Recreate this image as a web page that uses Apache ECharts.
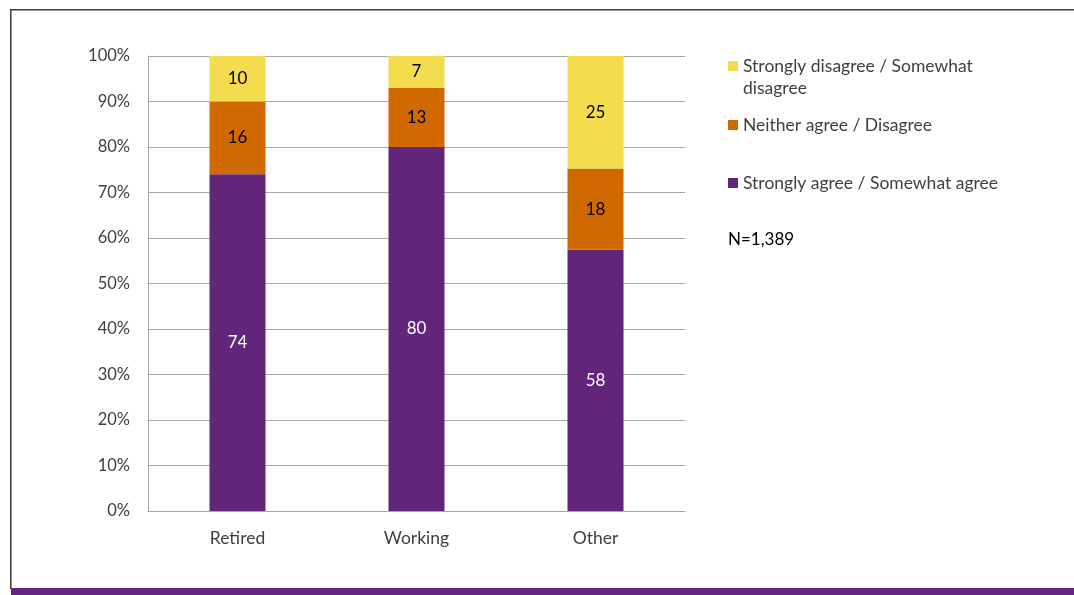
<!DOCTYPE html>
<html>
<head>
<meta charset="utf-8">
<script src="https://cdn.jsdelivr.net/npm/echarts@6/dist/echarts.min.js"></script>
<style>
  html, body { margin: 0; padding: 0; background: #fff; }
  #chart { width: 1074px; height: 595px; }
</style>
</head>
<body>
<div id="chart"></div>
<script>
// Survey groups and response shares (percent, as reported)
const categories = ['Retired', 'Working', 'Other'];
const agree    = [74, 80, 58];
const neither  = [16, 13, 18];
const disagree = [10, 7, 25];
const yTicks = ['0%', '10%', '20%', '30%', '40%', '50%', '60%', '70%', '80%', '90%', '100%'];
const seriesNames = [
  'Strongly agree / Somewhat agree',
  'Neither agree / Disagree',
  'Strongly disagree / Somewhat disagree'
];
const sampleNote = 'N=1,389';

const COLORS = { agree: '#61257a', neither: '#d06a00', disagree: '#f3dd4e' };
const FONT = 'Lato, "Open Sans", sans-serif';

// Each column is a 100% stack: scale the reported shares to their column total
const totals = categories.map((_, i) => agree[i] + neither[i] + disagree[i]);
const toShare = arr => arr.map((v, i) => v / totals[i] * 100);

function series(name, raw, color, labelColor) {
  return {
    name: name,
    type: 'bar',
    stack: 'total',
    barWidth: 56,
    data: toShare(raw),
    itemStyle: { color: color },
    label: {
      show: true,
      position: 'inside',
      color: labelColor,
      fontFamily: FONT,
      fontSize: 17,
      formatter: p => String(raw[p.dataIndex])
    },
    emphasis: { disabled: true }
  };
}

const chart = echarts.init(document.getElementById('chart'), null, { renderer: 'canvas' });

const legendBase = {
  orient: 'vertical',
  left: 728,
  padding: 0,
  itemWidth: 10,
  itemHeight: 10,
  itemGap: 0,
  icon: 'rect',
  selectedMode: false,
  textStyle: { fontFamily: FONT, fontSize: 17.5, color: '#404040', lineHeight: 22 }
};

chart.setOption({
  animation: false,
  backgroundColor: '#ffffff',
  grid: { left: 148, right: 389, top: 56, bottom: 84 },
  xAxis: {
    type: 'category',
    data: categories,
    axisTick: { show: false },
    axisLine: { lineStyle: { color: '#a6a6a6', width: 1 } },
    axisLabel: { margin: 18, color: '#404040', fontFamily: FONT, fontSize: 17.5 }
  },
  yAxis: {
    type: 'value',
    min: 0,
    max: 100,
    interval: 10,
    axisLine: { show: true, lineStyle: { color: '#a6a6a6', width: 1 } },
    axisTick: { show: false },
    splitLine: { lineStyle: { color: '#a6a6a6', width: 1 } },
    axisLabel: {
      margin: 18,
      color: '#404040',
      fontFamily: FONT,
      fontSize: 16.5,
      formatter: v => yTicks[Math.round(v / 10)]
    }
  },
  legend: [
    // leading blank line keeps the icon level with the first text line
    Object.assign({}, legendBase, {
      top: 33,
      data: [seriesNames[2]],
      formatter: () => '\nStrongly disagree / Somewhat\ndisagree'
    }),
    Object.assign({}, legendBase, { top: 114, data: [seriesNames[1]] }),
    Object.assign({}, legendBase, { top: 172, data: [seriesNames[0]] })
  ],
  series: [
    series(seriesNames[0], agree, COLORS.agree, '#ffffff'),
    series(seriesNames[1], neither, COLORS.neither, '#000000'),
    series(seriesNames[2], disagree, COLORS.disagree, '#000000')
  ],
  graphic: [
    // sample size note
    {
      type: 'text', left: 728, top: 231,
      style: { text: sampleNote, fontFamily: FONT, fontSize: 17, fill: '#000000' }
    },
    // slide frame: top and left rules, purple footer band
    { type: 'rect', shape: { x: 10, y: 9, width: 1064, height: 1.5 }, style: { fill: '#3a3a3a' }, silent: true },
    { type: 'rect', shape: { x: 10, y: 9, width: 1.5, height: 580 }, style: { fill: '#3a3a3a' }, silent: true },
    { type: 'rect', shape: { x: 11, y: 588, width: 1063, height: 7 }, style: { fill: '#652480' }, silent: true }
  ]
});
</script>
</body>
</html>
